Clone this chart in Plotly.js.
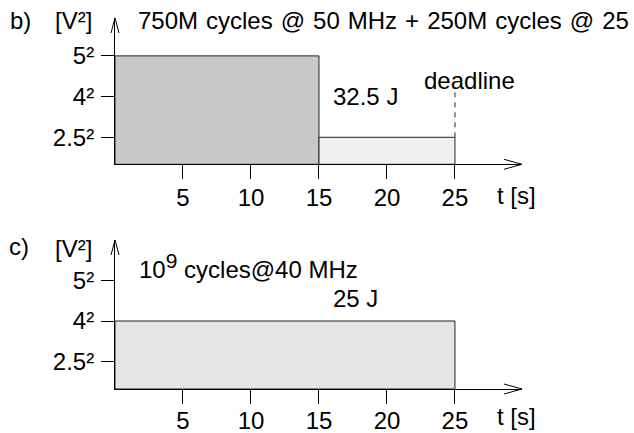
<!DOCTYPE html>
<html>
<head>
<meta charset="utf-8">
<script src="https://cdn.plot.ly/plotly-3.0.1.min.js"></script>
<style>html,body{margin:0;padding:0;background:#fff;}#chart{width:634px;height:433px;}</style>
</head>
<body>
<div id="chart"></div>
<script>
// ---- data ----
var timeTicks = [5, 10, 15, 20, 25];
var voltLevels = [1, 2, 3];
var voltLabels = ["2.5²", "4²", "5²"];

// panel b: two segments
var bStart = [0, 15];
var bEnd = [15, 25];
var bLevel = [3, 1];          // 5², 2.5²
var bColors = ["#c8c8c8", "#f0f0f0"];
var bEnergy = "32.5 J";
var bTitle = "750M\u2004cycles\u2004@\u200450\u2004MHz\u2004+\u2004250M\u2004cycles\u2004@\u200425";
var deadline = 25;

// panel c: one segment
var cStart = [0];
var cEnd = [25];
var cLevel = [2];             // 4²
var cColors = ["#e5e5e5"];
var cEnergy = "25 J";
var cTitle = "10<sup><span style=\"font-size:21px\">9</span></sup> cycles@40 MHz";

// ---- layout geometry ----
var W = 634, H = 433;
var FONT = "Liberation Sans, Arial, Helvetica, sans-serif";
var FS = 24;
var xRange = [0, 29.93];
var xDom = [115 / W, 522 / W];
var yRangeB = [0.3366, 3.931];
var yDomB = [1 - 164.3 / H, 1 - 18 / H];
var yRangeC = [0.3127, 4.01];
var yDomC = [1 - 389 / H, 1 - 240 / H];

var traces = [];
function addSegments(starts, ends, levels, colors, y0, xa, ya) {
  for (var i = 0; i < starts.length; i++) {
    traces.push({
      type: "scatter", mode: "lines", xaxis: xa, yaxis: ya,
      x: [starts[i], starts[i], ends[i], ends[i], starts[i]],
      y: [y0, levels[i], levels[i], y0, y0],
      fill: "toself", fillcolor: colors[i],
      line: { color: "#222", width: 1 }, hoverinfo: "skip", showlegend: false
    });
  }
}
addSegments(bStart, bEnd, bLevel, bColors, yRangeB[0], "x", "y");
addSegments(cStart, cEnd, cLevel, cColors, yRangeC[0], "x2", "y2");

// deadline dashed line
traces.push({
  type: "scatter", mode: "lines", xaxis: "x", yaxis: "y",
  x: [deadline, deadline], y: [bLevel[1], 2.1],
  line: { color: "#222", width: 1, dash: "5px,5px" }, hoverinfo: "skip", showlegend: false
});

// open arrowheads at the ends of the axes (paper coords, px offsets)
var shapes = [];
function addArrows(yd) {
  var xTip = xDom[1], yBase = yd[0];
  var xAx = xDom[0], yTop = yd[1];
  shapes.push({
    type: "path", xref: "paper", yref: "paper",
    path: "M" + (xTip - 18 / W) + "," + (yBase + 5 / H) + " L" + xTip + "," + yBase +
          " L" + (xTip - 18 / W) + "," + (yBase - 5 / H),
    line: { color: "#000", width: 1 }
  });
  shapes.push({
    type: "path", xref: "paper", yref: "paper",
    path: "M" + (xAx - 4 / W) + "," + (yTop - 15 / H) + " L" + xAx + "," + yTop +
          " L" + (xAx + 4 / W) + "," + (yTop - 15 / H),
    line: { color: "#000", width: 1 }
  });
}
addArrows(yDomB);
addArrows(yDomC);

function xAxis(anchor, standoff) {
  return {
    domain: xDom, range: xRange, anchor: anchor,
    showline: true, linecolor: "#000", linewidth: 1,
    ticks: "outside", ticklen: 14, tickwidth: 1, tickcolor: "#000",
    tickmode: "array", tickvals: timeTicks,
    tickfont: { family: FONT, size: FS, color: "#000" },
    ticklabelstandoff: standoff,
    showgrid: false, zeroline: false, fixedrange: true
  };
}
function yAxis(anchor, r, d) {
  return {
    domain: d, range: r, anchor: anchor,
    showline: true, linecolor: "#000", linewidth: 1,
    ticks: "outside", ticklen: 13, tickwidth: 1, tickcolor: "#000",
    tickmode: "array", tickvals: voltLevels, ticktext: voltLabels,
    tickfont: { family: FONT, size: FS, color: "#000" },
    ticklabelstandoff: 2,
    showgrid: false, zeroline: false, fixedrange: true
  };
}

function ann(text, x, y, xref, yref, xanchor, size) {
  return { text: text, x: x, y: y, xref: xref, yref: yref, xanchor: xanchor || "center",
           yanchor: "middle", showarrow: false,
           font: { family: FONT, size: size || FS, color: "#000" } };
}

var annotations = [
  ann("b)", 8 / W, 1 - 20 / H, "paper", "paper", "left"),
  ann("[V²]", 53 / W, 1 - 20 / H, "paper", "paper", "left"),
  ann(bTitle, 136 / W, 1 - 21 / H, "paper", "paper", "left"),
  ann(bEnergy, 18.4, 2.0, "x", "y"),
  ann("deadline", deadline + 1.05, 2.4, "x", "y"),
  ann("t [s]", 516 / W, 1 - 195 / H, "paper", "paper"),
  ann("c)", 7 / W, 1 - 247 / H, "paper", "paper", "left"),
  ann("[V²]", 53 / W, 1 - 248 / H, "paper", "paper", "left"),
  ann(cTitle, 137 / W, 1 - 266 / H, "paper", "paper", "left"),
  ann(cEnergy, 17.7, 2.55, "x2", "y2"),
  ann("t [s]", 516 / W, 1 - 416 / H, "paper", "paper")
];

var layout = {
  width: W, height: H,
  margin: { l: 0, r: 0, t: 0, b: 0 },
  paper_bgcolor: "#fff", plot_bgcolor: "rgba(0,0,0,0)",
  showlegend: false,
  xaxis: xAxis("y", -2),
  yaxis: yAxis("x", yRangeB, yDomB),
  xaxis2: xAxis("y2", -4),
  yaxis2: yAxis("x2", yRangeC, yDomC),
  shapes: shapes,
  annotations: annotations
};

Plotly.newPlot("chart", traces, layout, { displayModeBar: false, staticPlot: true });
</script>
</body>
</html>
